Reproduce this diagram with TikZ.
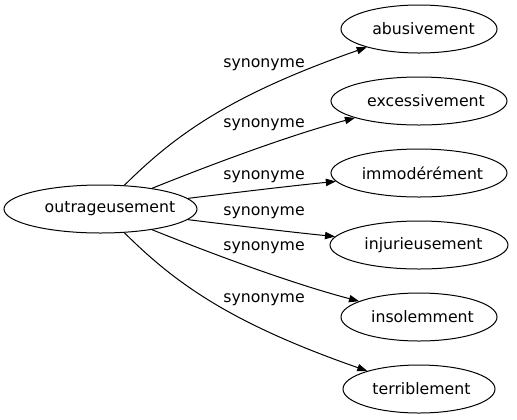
\documentclass[tikz,border=0pt]{standalone}
\usepackage{fontspec}
\setmainfont{DejaVu Sans}
\usetikzlibrary{shapes.geometric,arrows.meta}
\newcommand{\wordtext}[2]{\makebox[0pt][c]{\hspace*{#1}#2}}
\begin{document}
\begin{tikzpicture}[x=0.75pt,y=-0.75pt,
  word/.style={draw,ellipse,inner sep=0pt,minimum height=36pt,line width=0.75pt,font=\fontsize{11.8}{14}\selectfont},
  rel/.style={draw,line width=0.75pt,-{Triangle[length=7.5pt,width=5.5pt]}},
  lab/.style={font=\fontsize{11.8}{14}\selectfont,inner sep=0pt}]
\useasboundingbox (0,0) rectangle (517,419);
\node[word,minimum width=144.75pt] (c) at (100.5,209) {\wordtext{14.25pt}{outrageusement}};
\node[word,minimum width=117pt] (a1) at (419,29) {\wordtext{6.75pt}{abusivement}};
\node[word,minimum width=132pt] (a2) at (419,101) {\wordtext{10.5pt}{excessivement}};
\node[word,minimum width=132pt] (a3) at (419,173) {\wordtext{5.25pt}{immodérément}};
\node[word,minimum width=133.5pt] (a4) at (419,245) {\wordtext{6.75pt}{injurieusement}};
\node[word,minimum width=117pt] (a5) at (419,317) {\wordtext{5.25pt}{insolemment}};
\node[word,minimum width=114pt] (a6) at (419,389) {\wordtext{3.75pt}{terriblement}};
\draw[rel] (c) .. controls (175,135) and (230,95) .. (a1);
\draw[rel] (c) .. controls (210,165) and (290,135) .. (a2);
\draw[rel] (c) .. controls (240,192) and (290,186) .. (a3);
\draw[rel] (c) .. controls (240,226) and (290,232) .. (a4);
\draw[rel] (c) .. controls (210,253) and (290,283) .. (a5);
\draw[rel] (c) .. controls (175,283) and (230,323) .. (a6);
\node[lab] (l1) at (264,65) {synonyme};
\node[lab] (l2) at (264,125) {synonyme};
\node[lab] (l3) at (264,177) {synonyme};
\node[lab] (l4) at (264,213) {synonyme};
\node[lab] (l5) at (264,248) {synonyme};
\node[lab] (l6) at (264,300) {synonyme};
\end{tikzpicture}
\end{document}
